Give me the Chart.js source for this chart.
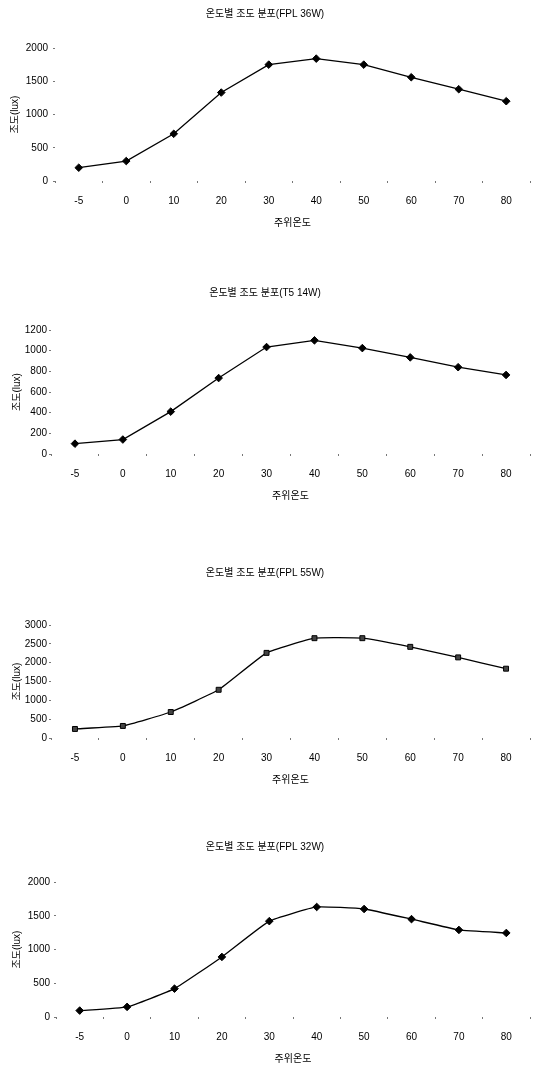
<!DOCTYPE html>
<html>
<head>
<meta charset="utf-8">
<script src="https://cdn.jsdelivr.net/npm/chart.js@4/dist/chart.umd.min.js"></script>
<style>
  html, body { margin: 0; padding: 0; background: #fff; overflow: hidden; }
  body { width: 546px; height: 1065px; position: relative; }
  .box { position: absolute; left: 0; width: 546px; }
</style>
</head>
<body>
<div class="box" id="b0"><canvas id="c0"></canvas></div>
<div class="box" id="b1"><canvas id="c1"></canvas></div>
<div class="box" id="b2"><canvas id="c2"></canvas></div>
<div class="box" id="b3"><canvas id="c3"></canvas></div>
<script>
// data
const temps = ['-5', '0', '10', '20', '30', '40', '50', '60', '70', '80'];
const luxFPL36 = [200, 300, 710, 1330, 1750, 1840, 1750, 1560, 1380, 1200];
const luxT514 = [100, 140, 410, 735, 1035, 1100, 1025, 935, 840, 765];
const luxFPL55 = [240, 320, 690, 1280, 2260, 2650, 2650, 2420, 2140, 1840];
const luxFPL32 = [95, 150, 420, 890, 1420, 1630, 1600, 1450, 1290, 1245];

const titles = ['온도별 조도 분포(FPL 36W)', '온도별 조도 분포(T5 14W)', '온도별 조도 분포(FPL 55W)', '온도별 조도 분포(FPL 32W)'];
const series = [luxFPL36, luxT514, luxFPL55, luxFPL32];
const yMax = [2000, 1200, 3000, 2000];
const yStep = [500, 200, 500, 500];
const xTitle = '주위온도';
const yTitle = '조도(lux)';

// placement of each chart on the page
const boxes = [
  {top: 1,   height: 232, titlePad: 28, axisW: 55, yPad: 5, yTitlePad: 9,  marker: 'rectRot', tension: 0},
  {top: 280, height: 226, titlePad: 31, axisW: 51, yPad: 2, yTitlePad: 11, marker: 'rectRot', tension: 0},
  {top: 560, height: 230, titlePad: 46, axisW: 51, yPad: 2, yTitlePad: 11, marker: 'rect',    tension: 0.12},
  {top: 834, height: 235, titlePad: 29, axisW: 56, yPad: 4, yTitlePad: 11, marker: 'rectRot', tension: 0.12},
];

Chart.defaults.font.family = "'Liberation Sans', 'Noto Sans CJK KR', sans-serif";
Chart.defaults.font.size = 10;
Chart.defaults.color = '#000';

boxes.forEach((b, i) => {
  const div = document.getElementById('b' + i);
  div.style.top = b.top + 'px';
  div.style.height = b.height + 'px';

  new Chart(document.getElementById('c' + i), {
    type: 'line',
    data: {
      labels: temps,
      datasets: [{
        data: series[i],
        borderColor: '#000',
        borderWidth: 1.3,
        backgroundColor: b.marker === 'rect' ? '#444' : '#000',
        pointBorderColor: '#000',
        pointBorderWidth: 1,
        pointStyle: b.marker,
        pointRadius: b.marker === 'rect' ? 3.5 : 3.8,
        tension: b.tension,
        fill: false,
      }],
    },
    options: {
      responsive: true,
      maintainAspectRatio: false,
      animation: false,
      layout: {padding: {left: 0, right: 16, top: 0, bottom: 0}},
      plugins: {
        legend: {display: false},
        tooltip: {enabled: false},
        title: {
          display: true,
          text: titles[i],
          color: '#000',
          font: {size: 10, weight: 'normal'},
          padding: {top: 7, bottom: b.titlePad},
        },
      },
      scales: {
        x: {
          offset: true,
          border: {display: false},
          grid: {offset: true, drawOnChartArea: false, drawTicks: true, tickLength: 2, color: '#777'},
          ticks: {padding: 12, color: '#000', maxRotation: 0},
          title: {display: true, text: xTitle, color: '#000', padding: {top: -2, bottom: 4}},
        },
        y: {
          min: 0,
          max: yMax[i],
          border: {display: false},
          grid: {drawOnChartArea: false, tickLength: 2, color: '#777'},
          ticks: {stepSize: yStep[i], padding: b.yPad, color: '#000', callback: (v) => String(v)},
          title: {display: true, text: yTitle, color: '#000', padding: {top: b.yTitlePad, bottom: 0}},
          afterFit: (s) => { s.width = b.axisW; },
        },
      },
    },
  });
});
</script>
</body>
</html>
